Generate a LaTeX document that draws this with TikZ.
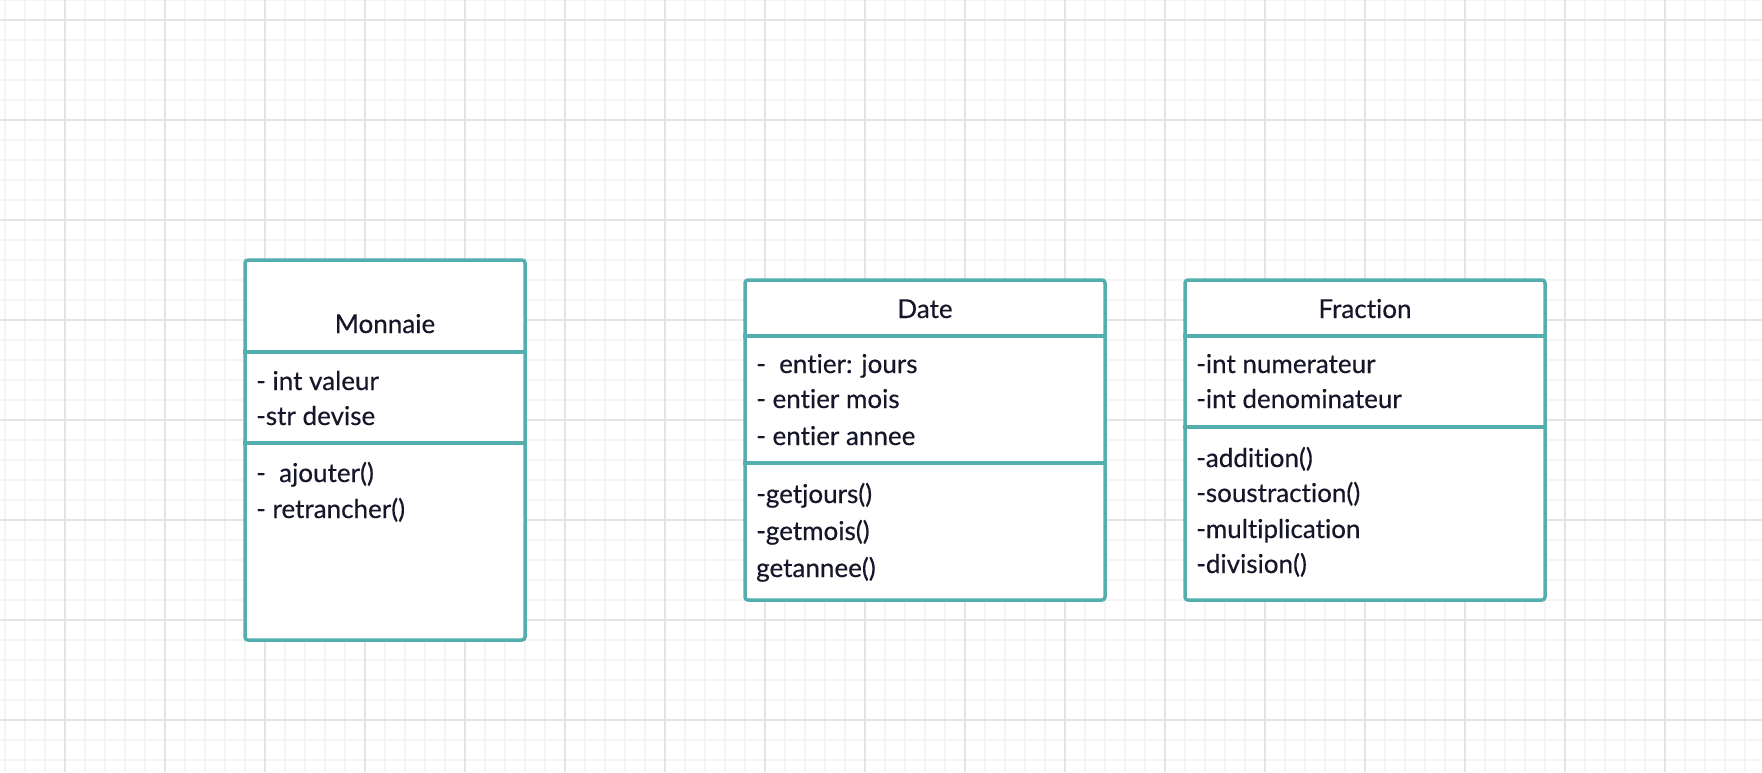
\documentclass[tikz,border=0pt]{standalone}
\usepackage{fontspec}
\setmainfont{Lato}
\newfontface\umlfont{Lato}[FakeBold=0.4,Ligatures=NoCommon]
\definecolor{umlteal}{RGB}{84,174,174}
\definecolor{umltext}{RGB}{22,22,42}
\definecolor{gridminor}{RGB}{244,244,244}
\definecolor{gridmajor}{RGB}{228,228,228}

\begin{document}
\begin{tikzpicture}[x=1pt,y=-1pt,
  classbox/.style={draw=umlteal,line width=3.5pt,rounded corners=3pt,fill=white,inner sep=0pt},
  divider/.style={draw=umlteal,line width=3.5pt},
  member/.style={anchor=base west,inner sep=0pt,text=umltext,font=\umlfont\fontsize{26}{30}\selectfont},
  classname/.style={member,anchor=base}]
\fill[white] (0,0) rectangle (1762,772);
\useasboundingbox (0,0) rectangle (1762,772);
% grid
\foreach \x in {5,25,...,1765} \draw[gridminor,line width=1.5pt] (\x,0) -- (\x,772);
\foreach \y in {0,20,...,780} \draw[gridminor,line width=1.5pt] (0,\y) -- (1762,\y);
\foreach \x in {65,165,...,1765} \draw[gridmajor,line width=2pt] (\x,0) -- (\x,772);
\foreach \y in {20,120,...,780} \draw[gridmajor,line width=2pt] (0,\y) -- (1762,\y);

% Monnaie
\node[classbox,minimum width=280pt,minimum height=380pt] (monnaie) at (385,450) {};
\draw[divider] (monnaie.west |- 0,352) -- (monnaie.east |- 0,352);
\draw[divider] (monnaie.west |- 0,443) -- (monnaie.east |- 0,443);
\node[classname] (mtitle) at (385,333) {Monnaie};
\node[member] (m1) at (256,390) {- int valeur};
\node[member] (m2) at (256,425) {-str devise};
\node[member] (m3) at (256,482) {-~ ajouter()};
\node[member] (m4) at (256,518) {- retrancher()};

% Date
\node[classbox,minimum width=360pt,minimum height=320pt] (date) at (925,440) {};
\draw[divider] (date.west |- 0,336) -- (date.east |- 0,336);
\draw[divider] (date.west |- 0,463) -- (date.east |- 0,463);
\node[classname] (dtitle) at (925,318) {Date};
\node[member] (d1) at (756,373) {-~ entier: jours};
\node[member] (d2) at (756,408) {- entier mois};
\node[member] (d3) at (756,445) {- entier annee};
\node[member] (d4) at (756,503) {-getjours()};
\node[member] (d5) at (756,540) {-getmois()};
\node[member] (d6) at (756,577) {getannee()};

% Fraction
\node[classbox,minimum width=360pt,minimum height=320pt] (fraction) at (1365,440) {};
\draw[divider] (fraction.west |- 0,336) -- (fraction.east |- 0,336);
\draw[divider] (fraction.west |- 0,427) -- (fraction.east |- 0,427);
\node[classname] (ftitle) at (1365,318) {Fraction};
\node[member] (f1) at (1196,373) {-int numerateur};
\node[member] (f2) at (1196,408) {-int denominateur};
\node[member] (f3) at (1196,467) {-addition()};
\node[member] (f4) at (1196,502) {-soustraction()};
\node[member] (f5) at (1196,538) {-multiplication};
\node[member] (f6) at (1196,573) {-division()};
\end{tikzpicture}
\end{document}
